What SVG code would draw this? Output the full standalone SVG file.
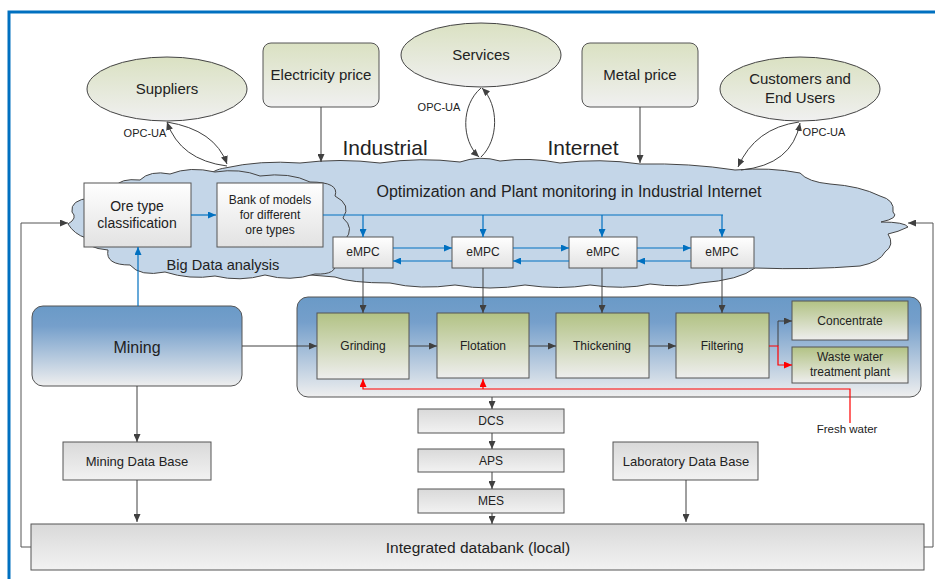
<svg xmlns="http://www.w3.org/2000/svg" width="935" height="579" viewBox="0 0 935 579">
<defs>
<linearGradient id="gOlive" x1="0" y1="0" x2="0" y2="1"><stop offset="0" stop-color="#DAE1C2"/><stop offset="1" stop-color="#F0F0F0"/></linearGradient>
<linearGradient id="gGreen" x1="0" y1="0" x2="0" y2="1"><stop offset="0" stop-color="#B2C284"/><stop offset="1" stop-color="#EEEEEE"/></linearGradient>
<linearGradient id="gBlue" x1="0" y1="0" x2="0" y2="1"><stop offset="0" stop-color="#6A9AC7"/><stop offset="0.25" stop-color="#759FCB"/><stop offset="1" stop-color="#EFEFEF"/></linearGradient>
<linearGradient id="gWhite" x1="0" y1="0" x2="0" y2="1"><stop offset="0" stop-color="#FFFFFF"/><stop offset="1" stop-color="#E2E2E2"/></linearGradient>
<linearGradient id="gGrey" x1="0" y1="0" x2="0" y2="1"><stop offset="0" stop-color="#D9D9D9"/><stop offset="1" stop-color="#F2F2F2"/></linearGradient>
<marker id="aD" markerUnits="userSpaceOnUse" markerWidth="8" markerHeight="7" refX="8" refY="3.5" orient="auto"><path d="M0,0 L8,3.5 L0,7 z" fill="#404040"/></marker>
<marker id="aB" markerUnits="userSpaceOnUse" markerWidth="8" markerHeight="7" refX="8" refY="3.5" orient="auto"><path d="M0,0 L8,3.5 L0,7 z" fill="#0070C0"/></marker>
<marker id="aR" markerUnits="userSpaceOnUse" markerWidth="8" markerHeight="7" refX="8" refY="3.5" orient="auto"><path d="M0,0 L8,3.5 L0,7 z" fill="#FF0000"/></marker>
</defs>
<style>
text{font-family:"Liberation Sans",Arial,sans-serif;fill:#222;text-anchor:middle}
.ell{fill:url(#gOlive);stroke:#444;stroke-width:1}
.box{stroke:#555;stroke-width:1}
.cloud{fill:#C4D6E8;stroke:#444;stroke-width:1}
.d{fill:none;stroke:#404040;stroke-width:1;marker-end:url(#aD)}
.dl{fill:none;stroke:#404040;stroke-width:1}
.b{fill:none;stroke:#0070C0;stroke-width:1.2;marker-end:url(#aB)}
.bl{fill:none;stroke:#0070C0;stroke-width:1.2}
.r{fill:none;stroke:#FF0000;stroke-width:1.2;marker-end:url(#aR)}
.rl{fill:none;stroke:#FF0000;stroke-width:1.2}
</style>
<rect x="0" y="0" width="935" height="579" fill="#FFFFFF"/>
<rect x="9" y="12" width="960" height="600" fill="none" stroke="#0070C0" stroke-width="3"/>

<g id="cloud-internet">
<path class="cloud" d="M200,200 C200,180 210,170 225,168 Q260,160 300,163 Q340,158 380,163 Q420,157 460,162 Q480,155 500,161 Q530,157 560,163 Q600,158 640,164 Q690,163 735,170 Q770,167 800,173 Q808,182 830,184 Q860,186 880,196 Q895,200 893,212 Q900,218 881,222 Q905,222 908,227 Q898,232 888,234 Q895,245 885,252 Q880,262 860,266 Q810,270 755,268 Q740,280 700,283 Q680,288 650,284 Q625,290 590,285 Q560,290 525,285 Q490,291 455,285 Q420,290 390,283 Q350,283 335,277 L250,270 Z"/>
<text x="569" y="197" font-size="16">Optimization and Plant monitoring in Industrial Internet</text>
</g>
<g id="cloud-bigdata">
<path class="cloud" d="M140,180 Q150,170 170,174 Q190,166 215,172 Q240,168 260,176 Q290,172 310,182 Q340,182 335,196 Q352,205 343,218 Q355,228 345,240 Q352,255 335,262 Q338,275 315,274 Q290,282 265,275 Q240,282 215,276 Q190,280 165,272 Q140,277 130,265 Q105,265 108,250 Q85,248 86,238 Q74,234 68,224 Q78,218 72,212 Q70,200 90,198 Q95,185 115,187 Q120,178 140,180 Z"/>
<text x="223" y="270" font-size="14.6">Big Data analysis</text>
</g>

<text x="385" y="155" font-size="21">Industrial</text>
<text x="583" y="155" font-size="21">Internet</text>

<g id="suppliers"><ellipse class="ell" cx="167" cy="89" rx="80" ry="32"/><text x="167" y="94" font-size="15">Suppliers</text></g>
<g id="electricity-price"><rect class="box" x="263" y="43" width="116" height="64" rx="8" fill="url(#gOlive)" stroke="#444"/><text x="321" y="80" font-size="15">Electricity price</text></g>
<g id="services"><ellipse class="ell" cx="481" cy="55" rx="80" ry="32"/><text x="481" y="60" font-size="15">Services</text></g>
<g id="metal-price"><rect class="box" x="582" y="43" width="116" height="64" rx="8" fill="url(#gOlive)" stroke="#444"/><text x="640" y="80" font-size="15">Metal price</text></g>
<g id="customers"><ellipse class="ell" cx="800" cy="89" rx="80" ry="32"/><text x="800" y="84" font-size="15">Customers and</text><text x="800" y="103" font-size="15">End Users</text></g>

<g id="ore-type"><rect class="box" x="84" y="183" width="107" height="64" fill="url(#gWhite)"/><text x="137" y="211" font-size="14">Ore type</text><text x="137" y="228" font-size="14">classification</text></g>
<g id="bank"><rect class="box" x="217" y="183" width="106" height="64" fill="url(#gWhite)"/><text x="270" y="204" font-size="12">Bank of models</text><text x="270" y="219" font-size="12">for different</text><text x="270" y="234" font-size="12">ore types</text></g>

<g id="empc1"><rect class="box" x="333" y="237" width="60" height="31" fill="url(#gWhite)"/><text x="363" y="256" font-size="12">eMPC</text></g>
<g id="empc2"><rect class="box" x="452" y="237" width="61" height="31" fill="url(#gWhite)"/><text x="483" y="256" font-size="12">eMPC</text></g>
<g id="empc3"><rect class="box" x="569" y="237" width="68" height="31" fill="url(#gWhite)"/><text x="603" y="256" font-size="12">eMPC</text></g>
<g id="empc4"><rect class="box" x="691" y="237" width="63" height="31" fill="url(#gWhite)"/><text x="722" y="256" font-size="12">eMPC</text></g>

<g id="process"><rect class="box" x="297" y="297" width="624" height="100" rx="11" fill="url(#gBlue)"/></g>
<g id="mining"><rect class="box" x="32" y="306" width="210" height="80" rx="11" fill="url(#gBlue)"/><text x="137" y="353" font-size="16">Mining</text></g>
<g id="grinding"><rect class="box" x="317" y="313" width="92" height="66" fill="url(#gGreen)"/><text x="363" y="350" font-size="12">Grinding</text></g>
<g id="flotation"><rect class="box" x="437" y="313" width="92" height="65" fill="url(#gGreen)"/><text x="483" y="350" font-size="12">Flotation</text></g>
<g id="thickening"><rect class="box" x="556" y="313" width="93" height="65" fill="url(#gGreen)"/><text x="602" y="350" font-size="12">Thickening</text></g>
<g id="filtering"><rect class="box" x="676" y="313" width="93" height="65" fill="url(#gGreen)"/><text x="722" y="350" font-size="12">Filtering</text></g>
<g id="concentrate"><rect class="box" x="792" y="301" width="116" height="39" fill="url(#gGreen)"/><text x="850" y="325" font-size="12">Concentrate</text></g>
<g id="waste-water"><rect class="box" x="792" y="347" width="116" height="36" fill="url(#gGreen)"/><text x="850" y="361" font-size="12">Waste water</text><text x="850" y="376" font-size="12">treatment plant</text></g>

<g id="dcs"><rect class="box" x="418" y="409" width="146" height="24" fill="url(#gGrey)"/><text x="491" y="425" font-size="12">DCS</text></g>
<g id="aps"><rect class="box" x="418" y="449" width="146" height="23" fill="url(#gGrey)"/><text x="491" y="465" font-size="12">APS</text></g>
<g id="mes"><rect class="box" x="418" y="489" width="146" height="24" fill="url(#gGrey)"/><text x="491" y="505" font-size="12">MES</text></g>
<g id="mining-db"><rect class="box" x="63" y="442" width="148" height="38" fill="url(#gGrey)"/><text x="137" y="466" font-size="13">Mining Data Base</text></g>
<g id="lab-db"><rect class="box" x="613" y="442" width="145" height="38" fill="url(#gGrey)"/><text x="686" y="466" font-size="13">Laboratory Data Base</text></g>
<g id="integrated"><rect class="box" x="31" y="524" width="893" height="46" fill="url(#gGrey)"/><text x="478" y="553" font-size="15.5">Integrated databank (local)</text></g>

<g id="connectors">
<path class="d" d="M321,107 V162"/>
<path class="d" d="M640,107 V163"/>
<path class="d" d="M227,166 Q180,160 167,122"/>
<path class="d" d="M167,122 Q215,130 227,164"/>
<path class="d" d="M481,88 C461,105 461,140 479,157"/>
<path class="d" d="M481,157 C499,140 499,105 482,88"/>
<path class="d" d="M799,122 Q755,128 738,167"/>
<path class="d" d="M741,170 Q792,165 800,123"/>
<text x="145" y="137" font-size="11">OPC-UA</text>
<text x="439" y="111" font-size="11">OPC-UA</text>
<text x="824" y="136" font-size="11">OPC-UA</text>

<path class="b" d="M191,215 H216"/>
<path class="bl" d="M323,215 H723"/>
<path class="b" d="M363,215 V237"/>
<path class="b" d="M483,215 V237"/>
<path class="b" d="M602,215 V237"/>
<path class="b" d="M722,215 V237"/>
<path class="b" d="M393,248 H452"/>
<path class="b" d="M513,248 H569"/>
<path class="b" d="M637,248 H691"/>
<path class="b" d="M452,261 H393"/>
<path class="b" d="M569,261 H513"/>
<path class="b" d="M691,261 H637"/>
<path class="b" d="M138,306 V247"/>

<path class="d" d="M363,268 V313"/>
<path class="d" d="M483,268 V313"/>
<path class="d" d="M602,268 V313"/>
<path class="d" d="M722,268 V313"/>

<path class="d" d="M242,346 H317"/>
<path class="d" d="M409,346 H437"/>
<path class="d" d="M529,346 H556"/>
<path class="d" d="M649,346 H676"/>
<path class="d" d="M778,346 V321 H792"/>
<path class="r" d="M769,346 H778 V365 H792"/>
<path class="r" d="M850,423 V389 H363 V379"/>
<path class="r" d="M483,389 V379"/>
<text x="847" y="433" font-size="11.5">Fresh water</text>

<path class="d" d="M492,397 V409"/>
<path class="d" d="M492,433 V449"/>
<path class="d" d="M492,472 V489"/>
<path class="d" d="M492,513 V524"/>
<path class="d" d="M137,386 V442"/>
<path class="d" d="M137,480 V522"/>
<path class="d" d="M686,480 V522"/>

<path class="d" style="stroke:#555" d="M31,547 H21 V223 H68"/>
<path class="d" style="stroke:#555" d="M924,547 H933 V223 H908"/>
</g>
</svg>
